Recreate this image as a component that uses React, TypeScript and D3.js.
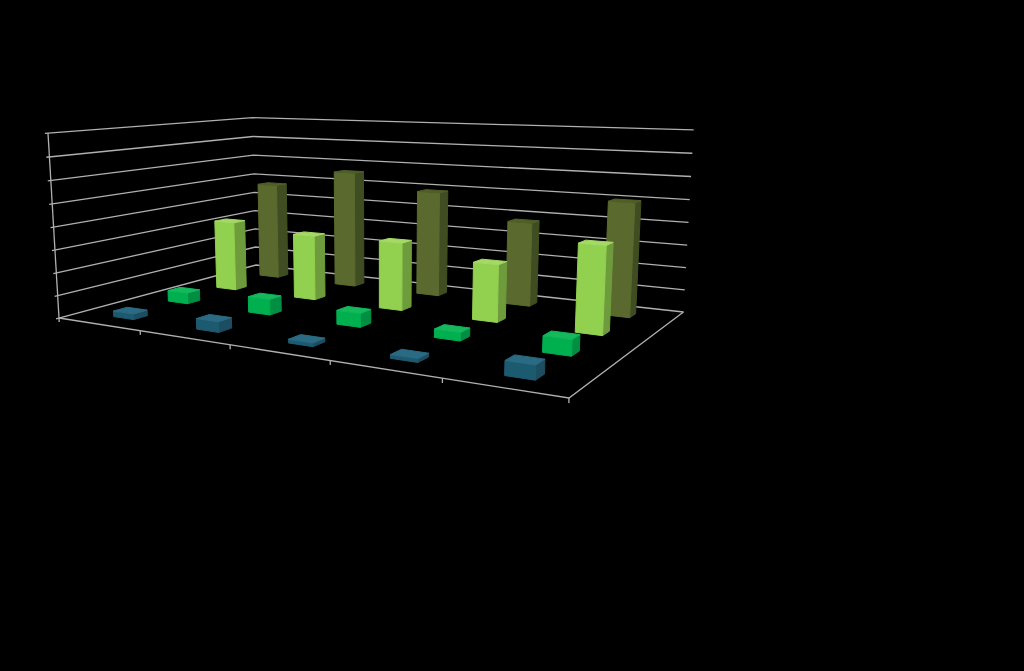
import React, { useEffect } from 'react';
import * as d3 from 'd3';

// values, on the 0-8 gridline scale
const categories = ['A', 'B', 'C', 'D', 'E'];
const seriesNames = ['S1', 'S2', 'S3', 'S4'];
const s1 = [0.25, 0.45, 0.15, 0.15, 0.55];
const s2 = [0.5, 0.7, 0.6, 0.35, 0.65];
const s3 = [3.3, 3.0, 3.05, 2.5, 3.7];
const s4 = [4.75, 5.6, 4.9, 3.8, 5.0];
const seriesValues = [s1, s2, s3, s4];
const zTicks = d3.range(0, 9);

const seriesColors = [
  { front: '#1f5a70', side: '#1b4e60', top: '#2b6a82' },
  { front: '#00b050', side: '#008f42', top: '#12b85c' },
  { front: '#92d050', side: '#6e9c3c', top: '#a4d966' },
  { front: '#5a6a2e', side: '#414e20', top: '#4f5e28' },
];

const W = 1024;
const H = 671;

// floor corners on screen, and the point where the verticals meet
const pA = [59, 318];
const pD = [569, 398];
const pC = [683.5, 312];
const pB = [256, 265];
const vanish = [381, 5735];
const zStrength = -0.0330;

function floorHomography() {
  const dx1 = pD[0] - pC[0];
  const dx2 = pB[0] - pC[0];
  const sx = pA[0] - pD[0] + pC[0] - pB[0];
  const dy1 = pD[1] - pC[1];
  const dy2 = pB[1] - pC[1];
  const sy = pA[1] - pD[1] + pC[1] - pB[1];
  const det = dx1 * dy2 - dx2 * dy1;
  const g = (sx * dy2 - dx2 * sy) / det;
  const h = (dx1 * sy - sx * dy1) / det;
  return {
    a: pD[0] - pA[0] + g * pD[0],
    b: pB[0] - pA[0] + h * pB[0],
    c: pA[0],
    d: pD[1] - pA[1] + g * pD[1],
    e: pB[1] - pA[1] + h * pB[1],
    f: pA[1],
    g,
    h,
  };
}
const hm = floorHomography();

const zScale = d3.scaleLinear().domain([0, 8]).range([0, 1]);
const uScale = d3.scaleBand<string>().domain(categories).range([0.007, 1]).paddingInner(0.75).paddingOuter(0.375);
const vScale = d3.scaleBand<string>().domain(seriesNames).range([0, 1]).paddingInner(0.76).paddingOuter(0.38);

// u along the front edge, v into the depth, z in 0..1 of the wall height
function project(u: number, v: number, z: number): [number, number] {
  const w = hm.g * u + hm.h * v + 1 + zStrength * z;
  const x = hm.a * u + hm.b * v + hm.c + zStrength * z * vanish[0];
  const y = hm.d * u + hm.e * v + hm.f + zStrength * z * vanish[1];
  return [x / w, y / w];
}

const line = d3.line();
const closed = (pts: [number, number][]) => line(pts) + 'Z';

function Box({ cat, si }: { cat: number; si: number }) {
  const u0 = uScale(categories[cat])!;
  const u1 = u0 + uScale.bandwidth();
  const v0 = vScale(seriesNames[si])!;
  const v1 = v0 + vScale.bandwidth();
  const z = zScale(seriesValues[si][cat]);
  const col = seriesColors[si];
  const front = closed([project(u0, v0, 0), project(u1, v0, 0), project(u1, v0, z), project(u0, v0, z)]);
  const side = closed([project(u1, v0, 0), project(u1, v1, 0), project(u1, v1, z), project(u1, v0, z)]);
  const top = closed([project(u0, v0, z), project(u1, v0, z), project(u1, v1, z), project(u0, v1, z)]);
  return (
    <g strokeWidth={1} strokeLinejoin="round">
      <path d={side} fill={col.side} stroke={col.side} />
      <path d={front} fill={col.front} stroke={col.front} />
      <path d={top} fill={col.top} stroke={col.top} />
    </g>
  );
}

export default function App() {
  useEffect(() => {
    document.body.style.margin = '0';
    document.body.style.background = '#000';
  }, []);

  const gridColor = '#b0b0b0';
  const catEdges = d3.range(0, categories.length + 1).map(i => i / categories.length);

  return (
    <svg width={W} height={H} style={{ display: 'block', background: '#000' }}>
      <defs>
        <filter id="soft" x="-5%" y="-5%" width="110%" height="110%">
          <feGaussianBlur stdDeviation="0.45" />
        </filter>
      </defs>
      <g filter="url(#soft)">
        <g fill="none" stroke={gridColor} strokeWidth={1.3}>
          {zTicks.map(t => {
            const z = zScale(t);
            return (
              <path
                key={t}
                d={line([project(0, -0.012, z), project(0, 1, z), project(1, 1, z)])!}
              />
            );
          })}
          <path d={line([project(0, 0, 0), project(0, 0, 1)])!} />
          <path d={line([project(0, 0, 0), project(1, 0, 0), project(1, 1, 0)])!} />
          {catEdges.map(e => (
            <path key={e} d={line([project(e, 0, 0), project(e, 0, -0.022)])!} />
          ))}
        </g>
        {d3.range(seriesNames.length - 1, -1, -1).map(si => (
          <g key={si}>
            {categories.map((_, cat) => (
              <Box key={cat} cat={cat} si={si} />
            ))}
          </g>
        ))}
      </g>
    </svg>
  );
}
